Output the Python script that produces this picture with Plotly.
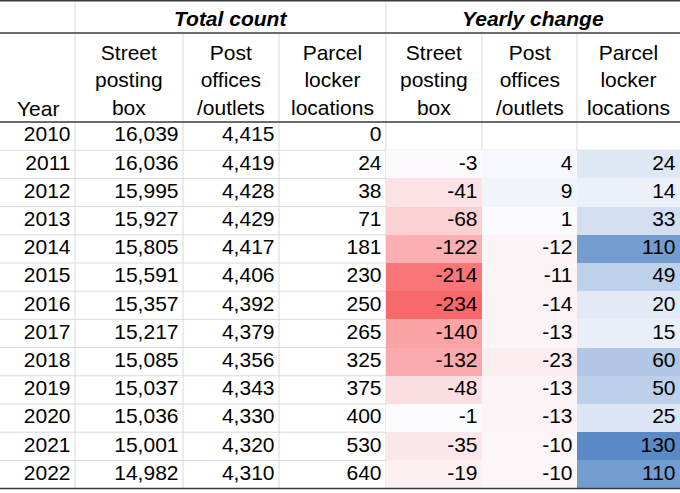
import plotly.graph_objects as go

# table data
years = [2010, 2011, 2012, 2013, 2014, 2015, 2016, 2017, 2018, 2019, 2020, 2021, 2022]
street_total = [16039, 16036, 15995, 15927, 15805, 15591, 15357, 15217, 15085, 15037, 15036, 15001, 14982]
post_total = [4415, 4419, 4428, 4429, 4417, 4406, 4392, 4379, 4356, 4343, 4330, 4320, 4310]
locker_total = [0, 24, 38, 71, 181, 230, 250, 265, 325, 375, 400, 530, 640]
street_change = [None, -3, -41, -68, -122, -214, -234, -140, -132, -48, -1, -35, -19]
post_change = [None, 4, 9, 1, -12, -11, -14, -13, -23, -13, -13, -10, -10]
locker_change = [None, 24, 14, 33, 110, 49, 20, 15, 60, 50, 25, 130, 110]

group_titles = ['Total count', 'Yearly change']
col_titles = ['Street<br>posting<br>box', 'Post<br>offices<br>/outlets', 'Parcel<br>locker<br>locations']

# layout (pixel units)
W, H = 680, 493
col_edges = [0, 75, 183, 279, 386, 482, 577, 680]
head1, head2 = 33, 122
row_h = 28.2
row_edges = [head2 + i * row_h for i in range(len(years) + 1)]
row_mid = [(row_edges[i] + row_edges[i + 1]) / 2 for i in range(len(years))]
FONT = 'Liberation Sans, Arial, Helvetica, sans-serif'
FS = 21
GRID = '#dadada'
DARK = '#3a3a3a'

fig = go.Figure()

# conditional-format colours for the yearly change block
zmin = min(v for col in (street_change, post_change, locker_change) for v in col if v is not None)
zmax = max(v for col in (street_change, post_change, locker_change) for v in col if v is not None)
mid = (0 - zmin) / (zmax - zmin)
z = [[street_change[i], post_change[i], locker_change[i]] for i in range(len(years))]
fig.add_trace(go.Heatmap(x=col_edges[4:], y=row_edges, z=z, zmin=zmin, zmax=zmax,
                         colorscale=[[0, '#F8696B'], [mid, '#FCFCFF'], [1, '#5A8AC6']],
                         showscale=False, hoverinfo='skip'))

# cell values, right aligned
def fmt(v):
    return '' if v is None else f'{v:,}'

columns = [years, street_total, post_total, locker_total, street_change, post_change, locker_change]
for j, col in enumerate(columns):
    texts = [str(v) if j == 0 else fmt(v) for v in col]
    fig.add_trace(go.Scatter(x=[col_edges[j + 1] - 4.5] * len(col), y=row_mid, mode='text',
                             text=texts, textposition='middle left',
                             textfont=dict(family=FONT, size=FS, color='black'),
                             hoverinfo='skip', showlegend=False, cliponaxis=False))

# grid lines
shapes = []
for ye in row_edges[1:-1]:
    shapes.append(dict(type='line', x0=0, x1=W, y0=ye, y1=ye, layer='below',
                       line=dict(color=GRID, width=1)))
for xe in col_edges[1:-1]:
    y0 = 0 if xe in (75, 386) else head1
    shapes.append(dict(type='line', x0=xe, x1=xe, y0=y0, y1=row_edges[-1], layer='below',
                       line=dict(color=GRID, width=1)))
for ye in (0.8, head1, head2, row_edges[-1]):
    shapes.append(dict(type='line', x0=0, x1=W, y0=ye, y1=ye, layer='above',
                       line=dict(color=DARK, width=1.5)))

# headers
annotations = []
for g, (a, b) in zip(group_titles, [(75, 386), (386, 680)]):
    annotations.append(dict(x=(a + b) / 2, y=18, text=f'<b><i>{g}</i></b>', showarrow=False,
                            xanchor='center', yanchor='middle',
                            font=dict(family=FONT, size=FS, color='black')))
annotations.append(dict(x=37.5, y=108, text='Year', showarrow=False, xanchor='center',
                        yanchor='middle', font=dict(family=FONT, size=FS, color='black')))
for j in range(6):
    a, b = col_edges[j + 1], col_edges[j + 2]
    annotations.append(dict(x=(a + b) / 2, y=80, text=col_titles[j % 3], showarrow=False,
                            xanchor='center', yanchor='middle', align='center',
                            font=dict(family=FONT, size=FS, color='black')))

fig.update_layout(width=W, height=H, margin=dict(l=0, r=0, t=0, b=0),
                  paper_bgcolor='white', plot_bgcolor='white',
                  xaxis=dict(range=[0, W], visible=False, fixedrange=True),
                  yaxis=dict(range=[H, 0], visible=False, fixedrange=True),
                  shapes=shapes, annotations=annotations, showlegend=False)

# page has a default body margin; drop it so the table fills the window
fig.write_html("out.html", config={'displayModeBar': False},
               post_script="document.body.style.margin='0';document.body.style.overflow='hidden';")
